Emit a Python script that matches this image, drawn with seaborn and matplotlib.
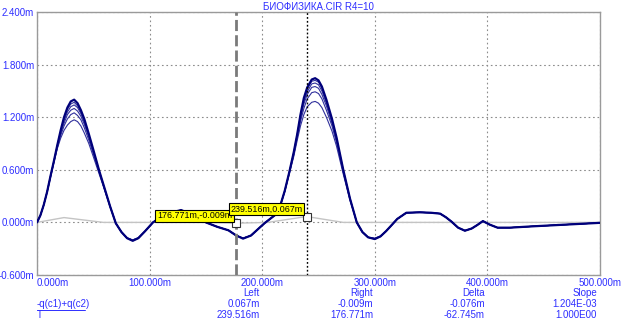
import matplotlib
matplotlib.use("Agg")
import matplotlib.pyplot as plt
from matplotlib.lines import Line2D
import numpy as np
import pandas as pd
import seaborn as sns

# time axis (ms) shared by every swept trace
t_ms = [0, 3, 6, 9, 12, 15, 18, 21, 24, 27, 30, 33, 36, 39, 42, 46, 50, 55, 60, 65,
        70, 75, 80, 85, 90, 96, 103, 110, 118, 128, 140, 150, 160, 170, 177, 183, 190, 196, 202, 207,
        212, 216, 220, 224, 228, 231, 234, 237, 240, 244, 247, 250, 253, 257, 262, 266, 272, 278, 284, 289,
        294, 300, 305, 310, 315, 320, 328, 340, 350, 358, 363, 368, 374, 380, 386, 391, 396, 402, 409, 420,
        440, 470, 500]

# -q(c1)+q(c2) for each step of the R4 sweep
q_step1 = [0.00, 0.08, 0.20, 0.35, 0.53, 0.70, 0.88, 1.05, 1.20, 1.31, 1.38, 1.40, 1.36, 1.28, 1.18, 1.01, 0.83, 0.60, 0.39, 0.18,
           -0.01, -0.11, -0.18, -0.21, -0.18, -0.10, 0.00, 0.06, 0.11, 0.14, 0.08, 0.00, -0.05, -0.09, -0.15, -0.185, -0.15, -0.08, -0.01, 0.04,
           0.09, 0.19, 0.36, 0.57, 0.80, 1.00, 1.23, 1.42, 1.54, 1.63, 1.645, 1.62, 1.55, 1.40, 1.18, 0.97, 0.60, 0.27, 0.00, -0.11,
           -0.17, -0.19, -0.16, -0.10, -0.03, 0.04, 0.11, 0.115, 0.11, 0.10, 0.06, 0.01, -0.06, -0.095, -0.07, -0.03, 0.015, -0.025, -0.06, -0.06,
           -0.045, -0.025, -0.005]
q_step2 = [0.00, 0.08, 0.20, 0.35, 0.53, 0.70, 0.88, 1.04, 1.18, 1.29, 1.35, 1.37, 1.33, 1.26, 1.16, 1.00, 0.82, 0.60, 0.39, 0.18,
           -0.01, -0.11, -0.18, -0.21, -0.18, -0.10, 0.00, 0.06, 0.11, 0.14, 0.08, 0.00, -0.05, -0.09, -0.15, -0.185, -0.15, -0.08, -0.01, 0.04,
           0.09, 0.19, 0.36, 0.57, 0.80, 1.00, 1.22, 1.40, 1.52, 1.61, 1.62, 1.60, 1.53, 1.38, 1.17, 0.96, 0.60, 0.27, 0.00, -0.11,
           -0.17, -0.19, -0.16, -0.10, -0.03, 0.04, 0.11, 0.115, 0.11, 0.10, 0.06, 0.01, -0.06, -0.095, -0.07, -0.03, 0.015, -0.025, -0.06, -0.06,
           -0.045, -0.025, -0.005]
q_step3 = [0.00, 0.08, 0.20, 0.35, 0.53, 0.70, 0.87, 1.03, 1.16, 1.26, 1.32, 1.34, 1.31, 1.24, 1.14, 0.99, 0.81, 0.59, 0.38, 0.18,
           -0.01, -0.11, -0.18, -0.205, -0.18, -0.10, 0.00, 0.06, 0.11, 0.14, 0.08, 0.00, -0.05, -0.09, -0.15, -0.18, -0.15, -0.08, -0.01, 0.04,
           0.09, 0.19, 0.36, 0.57, 0.79, 0.99, 1.20, 1.38, 1.49, 1.58, 1.59, 1.57, 1.50, 1.36, 1.15, 0.95, 0.59, 0.27, 0.00, -0.11,
           -0.17, -0.19, -0.16, -0.10, -0.03, 0.04, 0.11, 0.115, 0.11, 0.10, 0.06, 0.01, -0.06, -0.095, -0.07, -0.03, 0.015, -0.025, -0.06, -0.06,
           -0.045, -0.025, -0.005]
q_step4 = [0.00, 0.08, 0.20, 0.35, 0.52, 0.69, 0.86, 1.01, 1.13, 1.23, 1.28, 1.30, 1.27, 1.21, 1.12, 0.97, 0.80, 0.59, 0.38, 0.18,
           -0.01, -0.11, -0.18, -0.205, -0.18, -0.10, 0.00, 0.06, 0.11, 0.14, 0.08, 0.00, -0.05, -0.09, -0.15, -0.18, -0.15, -0.08, -0.01, 0.04,
           0.09, 0.19, 0.35, 0.56, 0.78, 0.98, 1.18, 1.35, 1.46, 1.54, 1.55, 1.53, 1.46, 1.33, 1.13, 0.93, 0.58, 0.27, 0.00, -0.11,
           -0.17, -0.185, -0.16, -0.10, -0.03, 0.04, 0.11, 0.115, 0.11, 0.10, 0.06, 0.01, -0.06, -0.095, -0.07, -0.03, 0.015, -0.025, -0.06, -0.06,
           -0.045, -0.025, -0.005]
q_step5 = [0.00, 0.08, 0.20, 0.35, 0.52, 0.69, 0.85, 0.99, 1.10, 1.18, 1.23, 1.25, 1.22, 1.17, 1.08, 0.94, 0.78, 0.58, 0.38, 0.18,
           -0.01, -0.11, -0.18, -0.20, -0.175, -0.10, 0.00, 0.06, 0.11, 0.14, 0.08, 0.00, -0.05, -0.09, -0.15, -0.18, -0.15, -0.08, -0.01, 0.04,
           0.09, 0.19, 0.35, 0.56, 0.77, 0.96, 1.15, 1.30, 1.41, 1.48, 1.49, 1.47, 1.41, 1.28, 1.10, 0.91, 0.57, 0.26, 0.00, -0.11,
           -0.17, -0.185, -0.16, -0.10, -0.03, 0.04, 0.11, 0.115, 0.11, 0.10, 0.06, 0.01, -0.06, -0.095, -0.07, -0.03, 0.015, -0.025, -0.06, -0.06,
           -0.045, -0.025, -0.005]
q_step6 = [0.00, 0.08, 0.20, 0.34, 0.51, 0.68, 0.84, 0.96, 1.05, 1.11, 1.15, 1.17, 1.15, 1.10, 1.02, 0.90, 0.75, 0.56, 0.37, 0.17,
           -0.01, -0.11, -0.175, -0.20, -0.175, -0.10, 0.00, 0.06, 0.11, 0.14, 0.08, 0.00, -0.05, -0.09, -0.15, -0.18, -0.15, -0.08, -0.01, 0.04,
           0.09, 0.19, 0.35, 0.55, 0.75, 0.93, 1.10, 1.23, 1.32, 1.37, 1.38, 1.36, 1.31, 1.20, 1.04, 0.87, 0.55, 0.25, 0.00, -0.11,
           -0.17, -0.18, -0.155, -0.10, -0.03, 0.04, 0.11, 0.115, 0.11, 0.10, 0.06, 0.01, -0.06, -0.09, -0.07, -0.03, 0.015, -0.025, -0.06, -0.06,
           -0.045, -0.025, -0.005]

# reference trace (light grey) on which the cursors sit
t_ref = [0, 24, 59, 150, 176.771, 205, 239.516, 272, 500]
q_ref = [0.0, 0.055, 0.0, 0.0, -0.009, 0.0, 0.067, 0.0, 0.0]

# cursor readouts
cursor_left = (239.516, 0.067)
cursor_right = (176.771, -0.009)
x_ticks = [0, 100, 200, 300, 400, 500]
y_ticks = [-0.6, 0.0, 0.6, 1.2, 1.8, 2.4]
title = "БИОФИЗИКА.CIR R4=10"
readout_head = ["Left", "Right", "Delta", "Slope"]
readout_q = ["0.067m", "-0.009m", "-0.076m", "1.204E-03"]
readout_t = ["239.516m", "176.771m", "-62.745m", "1.000E00"]

sns.set_style("white")
plt.rcParams["font.family"] = ["Liberation Sans", "DejaVu Sans"]
BLUE = "#2e2eff"
FS = 7.0
W, H = 623, 324

fig = plt.figure(figsize=(W / 100, H / 100), dpi=100)
ax = fig.add_axes([37 / W, 1 - 275 / H, (600 - 37) / W, (275 - 12) / H])

steps = [q_step1, q_step2, q_step3, q_step4, q_step5, q_step6]
frames = []
for i, q in enumerate(steps):
    frames.append(pd.DataFrame({"t": t_ms, "q": q, "step": f"s{i + 1}"}))
df = pd.concat(frames, ignore_index=True)

sns.lineplot(data=pd.DataFrame({"t": t_ref, "q": q_ref}), x="t", y="q", ax=ax,
             color="#c4c4c4", lw=1.0, estimator=None, sort=False, zorder=2)
for name in reversed([f"s{k + 1}" for k in range(len(steps))]):
    sub = df[df["step"] == name]
    top = name == "s1"
    sns.lineplot(data=sub, x="t", y="q", ax=ax, estimator=None, sort=False,
                 color="#00007a" if top else "#30309c",
                 lw=1.6 if top else 0.8, zorder=4 if top else 3)

ax.set_xlim(0, 500)
ax.set_ylim(-0.6, 2.4)
ax.set_xticks(x_ticks)
ax.set_yticks(y_ticks)
ax.set_xticklabels([f"{v:.3f}m" for v in x_ticks])
ax.set_yticklabels([f"{v:.3f}m" for v in y_ticks])
ax.tick_params(length=0, labelsize=FS, labelcolor=BLUE, pad=2)
ax.get_xticklabels()[0].set_ha("left")
ax.set_xlabel("")
ax.set_ylabel("")
ax.grid(True, color="#8c8c8c", lw=0.8, linestyle=(0, (1.5, 2.5)), zorder=1)
ax.set_axisbelow(True)
for s in ax.spines.values():
    s.set_color("#9a9a9a")
    s.set_linewidth(1.0)

# cursors
ax.axvline(cursor_right[0], color="#7a7a7a", lw=2.0, dashes=(4, 1.5), zorder=5)
ax.axvline(cursor_left[0], color="black", lw=1.0, dashes=(1.3, 1.5), zorder=5)
for cx, cy in (cursor_right, cursor_left):
    ax.plot([cx], [cy], marker="s", ms=5.5, mfc="white", mec="#333333", mew=0.8, zorder=7)
    ax.annotate(f"{cx:.3f}m,{cy:.3f}m", xy=(cx, cy), xytext=(-4, 3), textcoords="offset pixels",
                ha="right", va="bottom", fontsize=6.4, color="black", zorder=8,
                bbox=dict(boxstyle="square,pad=0.18", fc="#ffff00", ec="black", lw=0.8))

fig.text(318 / W, 1 - 7 / H, title, color=BLUE, fontsize=FS, ha="center", va="center")

# readout table under the plot
right_edges = [260, 373, 485, 597]
rows_y = [292.5, 304, 315]
for xr, head, qv, tv in zip(right_edges, readout_head, readout_q, readout_t):
    for yy, txt in zip(rows_y, (head, qv, tv)):
        fig.text(xr / W, 1 - yy / H, txt, color=BLUE, fontsize=FS, ha="right", va="center")
fig.text(37 / W, 1 - rows_y[1] / H, "-q(c1)+q(c2)", color=BLUE, fontsize=FS, ha="left", va="center")
fig.text(37 / W, 1 - rows_y[2] / H, "T", color=BLUE, fontsize=FS, ha="left", va="center")
fig.add_artist(Line2D([37 / W, 85 / W], [1 - 309.5 / H, 1 - 309.5 / H], color=BLUE, lw=0.7))

fig.savefig("out.png", dpi=100, facecolor="white")
